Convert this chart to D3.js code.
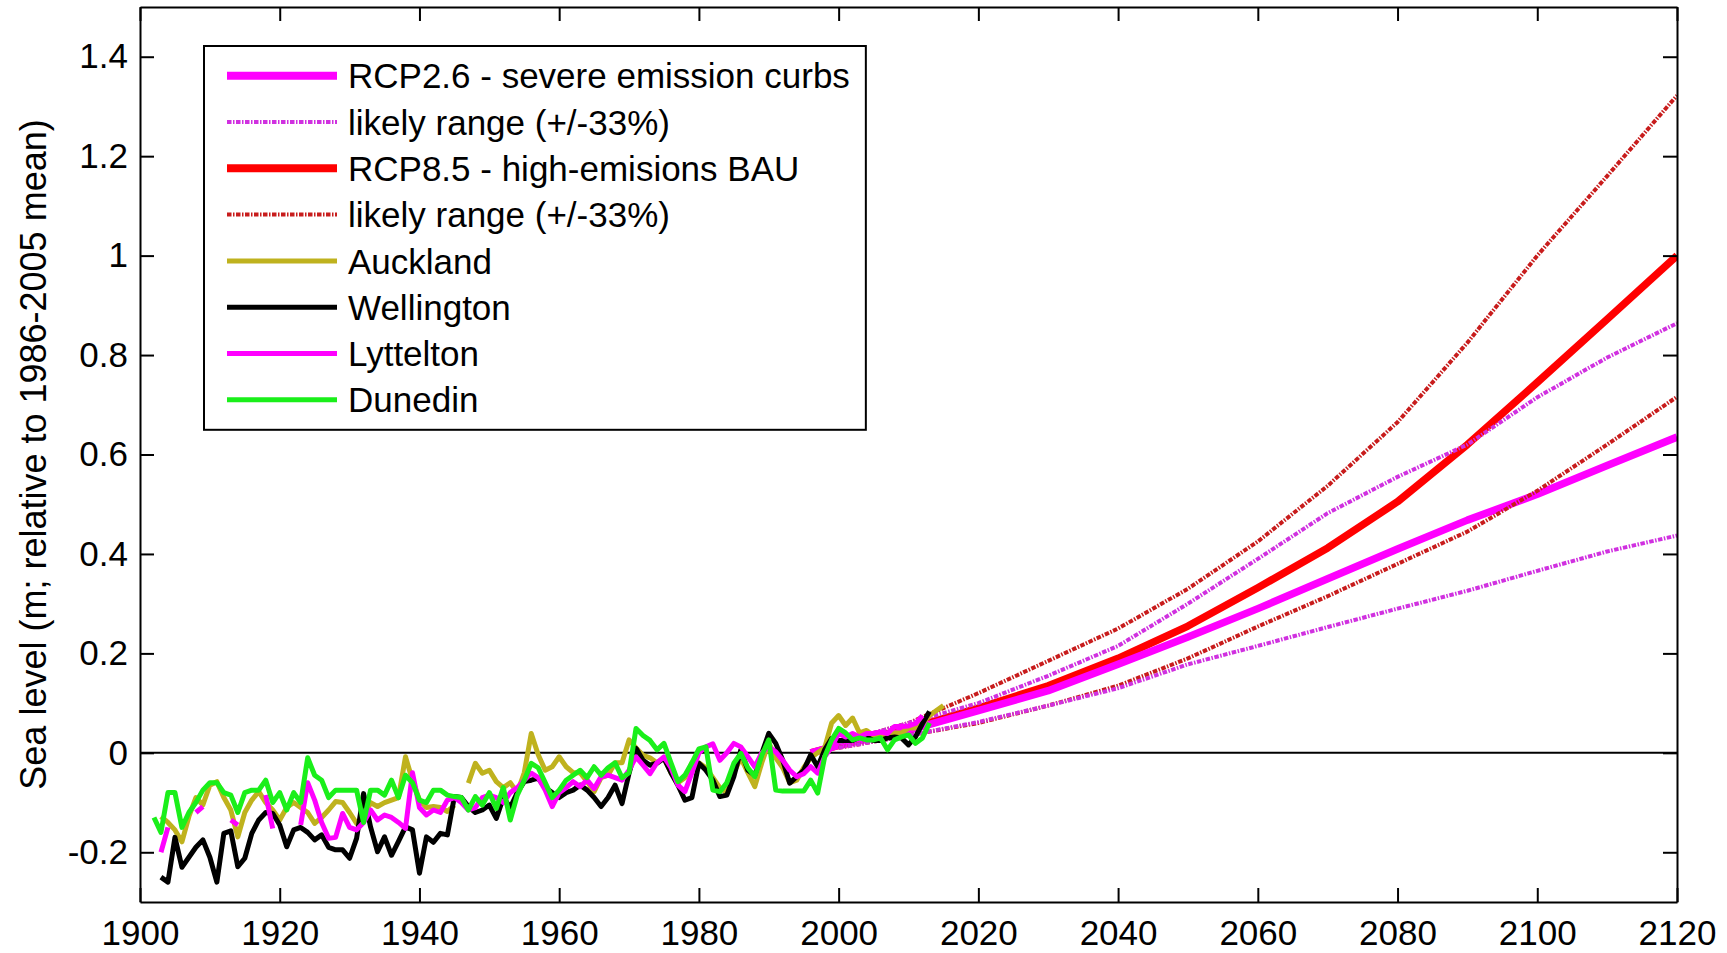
<!DOCTYPE html>
<html>
<head>
<meta charset="utf-8">
<script src="https://cdnjs.cloudflare.com/ajax/libs/d3/7.8.5/d3.min.js"></script>
<style>
  body { margin: 0; background: #fff; }
  svg { display: block; font-family: "Liberation Sans", Arial, sans-serif; }
</style>
</head>
<body>
<svg id="chart" width="1727" height="953"></svg>
<script>
const width = 1727, height = 953;
const margin = {top: 7, right: 50, bottom: 51, left: 140};

// Tide gauge annual means (m, relative to 1986-2005 mean); null = no data
const aucklandStart = 1903;
const aucklandVals = [
  -0.128, -0.14, -0.155, -0.179, -0.128, -0.09, -0.105, -0.065, -0.058, -0.09,
  -0.115, -0.169, -0.12, -0.095, -0.078, -0.1, -0.115, -0.135, -0.11, -0.1,
  -0.11, -0.12, -0.142, -0.13, -0.115, -0.098, -0.1, -0.12, -0.142, -0.13,
  -0.1, -0.108, -0.1, -0.095, -0.09, -0.008, -0.055, -0.095, -0.11, -0.108,
  -0.11, -0.118, -0.105, null, -0.061, -0.021, -0.041, -0.035, -0.058, -0.07,
  -0.06, -0.08, -0.04, 0.039, -0.004, -0.035, -0.028, -0.008, -0.028, -0.04,
  -0.04, -0.058, -0.078, -0.05, -0.045, -0.02, -0.02, 0.026, 0.01, -0.005,
  -0.01, -0.02, -0.01, -0.04, -0.06, -0.05, -0.02, -0.02, -0.03, -0.05,
  -0.07, -0.08, -0.04, -0.01, -0.04, -0.068, -0.02, 0.02, -0.01, -0.03,
  -0.06, -0.055, -0.03, -0.01, 0.0, 0.01, 0.06, 0.075, 0.055, 0.07,
  0.04, 0.045, 0.035, 0.035, 0.035, 0.04, 0.04, 0.05, 0.05, 0.06,
  0.075, 0.085, 0.095
];

const wellingtonStart = 1903;
const wellingtonVals = [
  -0.25, -0.26, -0.17, -0.23, -0.21, -0.19, -0.175, -0.21, -0.26, -0.162,
  -0.157, -0.229, -0.212, -0.162, -0.135, -0.12, -0.122, -0.145, -0.189, -0.155,
  -0.15, -0.16, -0.175, -0.165, -0.19, -0.195, -0.195, -0.212, -0.172, -0.082,
  -0.149, -0.199, -0.169, -0.206, -0.178, -0.149, -0.155, -0.242, -0.169, -0.18,
  -0.162, -0.165, -0.088, -0.09, -0.108, -0.12, -0.115, -0.105, -0.132, -0.09,
  -0.11, -0.08, -0.058, -0.055, -0.051, -0.07, -0.08, -0.09, -0.08, -0.075,
  -0.065, -0.075, -0.09, -0.108, -0.09, -0.065, -0.102, -0.041, 0.009, -0.015,
  -0.025, -0.021, -0.011, -0.04, -0.065, -0.095, -0.09, -0.021, -0.035, -0.055,
  -0.088, -0.085, -0.048, 0.006, -0.035, -0.045, -0.001, 0.039, 0.019, -0.015,
  -0.061, -0.048, -0.035, -0.004, -0.028, 0.006, 0.029, 0.025, 0.025, 0.025,
  0.032, 0.032, 0.025, 0.025, 0.03, 0.032, 0.03, 0.016, 0.032, 0.059,
  0.083
];

const lytteltonStart = 1903;
const lytteltonVals = [
  -0.2, -0.15, null, null, null, -0.12, -0.108, null, null, null,
  -0.135, -0.145, null, null, null, -0.085, -0.152, null, null, null,
  -0.145, -0.06, -0.095, -0.14, -0.172, -0.17, -0.122, -0.15, -0.155, -0.14,
  -0.115, -0.135, -0.125, -0.13, -0.14, -0.152, -0.04, -0.11, -0.125, -0.115,
  -0.12, -0.095, -0.09, -0.1, -0.115, -0.11, -0.09, -0.085, -0.09, -0.1,
  -0.08, -0.07, -0.055, -0.041, -0.05, -0.075, -0.108, -0.08, -0.07, -0.058,
  -0.068, -0.055, -0.072, -0.048, -0.045, -0.05, -0.055, -0.035, -0.008, -0.025,
  -0.042, -0.02, -0.008, -0.03, -0.065, -0.078, -0.04, 0.0, 0.012, 0.018,
  -0.015, 0.0, 0.019, 0.012, -0.008, -0.028, 0.0, 0.012, 0.002, -0.015,
  -0.035, -0.048, -0.042, -0.028, -0.041, -0.008, 0.012, 0.039, 0.032, 0.039,
  0.032, 0.039, 0.039, 0.042, 0.039, 0.053, 0.053, 0.054, 0.059, 0.075
];

const dunedinStart = 1902;
const dunedinVals = [
  -0.13, -0.16, -0.08, -0.08, -0.15, -0.12, -0.1, -0.075, -0.06, -0.06,
  -0.08, -0.085, -0.12, -0.08, -0.075, -0.075, -0.055, -0.1, -0.08, -0.115,
  -0.08, -0.1, -0.01, -0.045, -0.055, -0.09, -0.075, -0.075, -0.075, -0.075,
  -0.14, -0.075, -0.075, -0.085, -0.055, -0.09, -0.045, -0.06, -0.095, -0.1,
  -0.075, -0.075, -0.085, -0.088, -0.09, -0.115, -0.088, -0.105, -0.08, -0.112,
  -0.07, -0.135, -0.085, -0.055, -0.021, -0.03, -0.06, -0.09, -0.075, -0.055,
  -0.045, -0.035, -0.05, -0.028, -0.045, -0.03, -0.02, -0.05, -0.04, 0.049,
  0.035, 0.025, 0.006, 0.019, -0.02, -0.058, -0.045, -0.02, 0.008, 0.012,
  -0.075, -0.078, -0.06, -0.021, -0.001, -0.03, -0.048, -0.005, 0.026, -0.075,
  -0.077, -0.077, -0.077, -0.077, -0.055, -0.081, -0.008, 0.026, 0.049, 0.04,
  0.026, 0.03, 0.026, 0.026, 0.03, 0.006, 0.026, 0.032, 0.036, 0.019,
  0.03, 0.06
];

// IPCC AR5 projections for NZ (m, relative to 1986-2005)
const projYears = [1996, 2000, 2010, 2020, 2030, 2040, 2050, 2060, 2070, 2080, 2090, 2100, 2110, 2120];
const rcp26Mean = [0.0, 0.015, 0.045, 0.085, 0.125, 0.178, 0.233, 0.29, 0.35, 0.41, 0.468, 0.52, 0.578, 0.635];
const rcp26Low  = [null, 0.01, 0.035, 0.062, 0.095, 0.13, 0.178, 0.215, 0.253, 0.29, 0.326, 0.366, 0.405, 0.437];
const rcp26High = [null, 0.02, 0.06, 0.1, 0.155, 0.215, 0.30, 0.39, 0.482, 0.555, 0.62, 0.715, 0.795, 0.864];
const rcp85Mean = [0.0, 0.015, 0.048, 0.09, 0.135, 0.19, 0.255, 0.332, 0.412, 0.505, 0.62, 0.745, 0.872, 1.0];
const rcp85Low  = [null, 0.01, 0.035, 0.06, 0.095, 0.135, 0.19, 0.254, 0.315, 0.38, 0.445, 0.527, 0.62, 0.716];
const rcp85High = [null, 0.02, 0.06, 0.12, 0.185, 0.25, 0.33, 0.425, 0.537, 0.665, 0.825, 1.0, 1.16, 1.322];

const xTicks = d3.range(1900, 2121, 20);
const yTicks = [-0.2, 0, 0.2, 0.4, 0.6, 0.8, 1, 1.2, 1.4];

const colors = {
  rcp26: "#ff00ff", rcp26Range: "#d030e0",
  rcp85: "#ff0000", rcp85Range: "#c81c1c",
  auckland: "#bfb21e", wellington: "#000000", lyttelton: "#ff00ff", dunedin: "#1aef1a"
};

const svg = d3.select("#chart");

const x = d3.scaleLinear().domain([1900, 2120]).range([margin.left, width - margin.right]);
const y = d3.scaleLinear().domain([-0.3, 1.5]).range([height - margin.bottom, margin.top]);

function annual(start, vals) {
  return vals.map((v, i) => ({year: start + i, value: v}));
}
function proj(vals) {
  return projYears.map((yr, i) => ({year: yr, value: vals[i]}));
}

const line = d3.line()
  .defined(d => d.value !== null)
  .x(d => x(d.year))
  .y(d => y(d.value));

svg.append("defs").append("clipPath").attr("id", "plotClip")
  .append("rect")
  .attr("x", margin.left).attr("y", margin.top)
  .attr("width", width - margin.left - margin.right)
  .attr("height", height - margin.top - margin.bottom);

const plot = svg.append("g").attr("clip-path", "url(#plotClip)");

// zero line
plot.append("line")
  .attr("x1", x(1900)).attr("x2", x(2120))
  .attr("y1", y(0)).attr("y2", y(0))
  .attr("stroke", "#000").attr("stroke-width", 2);

const dashRange = "4.5,1.5,1.5,1.5";

// projections: means first, likely ranges over them
const projSeries = [
  {vals: rcp85Mean, color: colors.rcp85, w: 7.5, dash: null},
  {vals: rcp26Mean, color: colors.rcp26, w: 7.5, dash: null},
  {vals: rcp85High, color: colors.rcp85Range, w: 4, dash: dashRange},
  {vals: rcp85Low, color: colors.rcp85Range, w: 4, dash: dashRange},
  {vals: rcp26High, color: colors.rcp26Range, w: 4, dash: dashRange},
  {vals: rcp26Low, color: colors.rcp26Range, w: 4, dash: dashRange}
];
projSeries.forEach(s => {
  plot.append("path")
    .datum(proj(s.vals))
    .attr("d", line)
    .attr("fill", "none")
    .attr("stroke", s.color)
    .attr("stroke-width", s.w)
    .attr("stroke-dasharray", s.dash)
    .attr("stroke-linejoin", "round");
});

// tide gauges
const gauges = [
  {start: aucklandStart, vals: aucklandVals, color: colors.auckland},
  {start: wellingtonStart, vals: wellingtonVals, color: colors.wellington},
  {start: lytteltonStart, vals: lytteltonVals, color: colors.lyttelton},
  {start: dunedinStart, vals: dunedinVals, color: colors.dunedin}
];
gauges.forEach(g => {
  plot.append("path")
    .datum(annual(g.start, g.vals))
    .attr("d", line)
    .attr("fill", "none")
    .attr("stroke", g.color)
    .attr("stroke-width", 5)
    .attr("stroke-linejoin", "round");
});

// axes: ticks point inward, labels on left and bottom only
const tickLen = 14;
const fmtY = d => String(+d.toFixed(1));

const xAxisB = svg.append("g")
  .attr("transform", `translate(0,${height - margin.bottom})`)
  .call(d3.axisBottom(x).tickValues(xTicks).tickFormat(d3.format("d"))
    .tickSizeInner(-tickLen).tickSizeOuter(0).tickPadding(18));
const xAxisT = svg.append("g")
  .attr("transform", `translate(0,${margin.top})`)
  .call(d3.axisTop(x).tickValues(xTicks).tickFormat("")
    .tickSizeInner(-tickLen).tickSizeOuter(0));
const yAxisL = svg.append("g")
  .attr("transform", `translate(${margin.left},0)`)
  .call(d3.axisLeft(y).tickValues(yTicks).tickFormat(fmtY)
    .tickSizeInner(-tickLen).tickSizeOuter(0).tickPadding(12));
const yAxisR = svg.append("g")
  .attr("transform", `translate(${width - margin.right},0)`)
  .call(d3.axisRight(y).tickValues(yTicks).tickFormat("")
    .tickSizeInner(-tickLen).tickSizeOuter(0));

[xAxisB, xAxisT, yAxisL, yAxisR].forEach(a => {
  a.selectAll(".domain").attr("stroke", "#000").attr("stroke-width", 2);
  a.selectAll(".tick line").attr("stroke", "#000").attr("stroke-width", 2);
  a.selectAll("text").attr("fill", "#000").style("font-size", "35px")
    .style("font-family", "'Liberation Sans', Arial, sans-serif");
});

// axis title
svg.append("text")
  .attr("transform", `translate(46,${(margin.top + height - margin.bottom) / 2}) rotate(-90)`)
  .attr("text-anchor", "middle")
  .style("font-size", "36px")
  .text("Sea level (m; relative to 1986-2005 mean)");

// legend
const legendItems = [
  {label: "RCP2.6 - severe emission curbs", color: colors.rcp26, w: 8, dash: null},
  {label: "likely range (+/-33%)", color: colors.rcp26Range, w: 4, dash: dashRange},
  {label: "RCP8.5 - high-emisions BAU", color: colors.rcp85, w: 8, dash: null},
  {label: "likely range (+/-33%)", color: colors.rcp85Range, w: 4, dash: dashRange},
  {label: "Auckland", color: colors.auckland, w: 5, dash: null},
  {label: "Wellington", color: colors.wellington, w: 5, dash: null},
  {label: "Lyttelton", color: colors.lyttelton, w: 5, dash: null},
  {label: "Dunedin", color: colors.dunedin, w: 5, dash: null}
];
const legX = 204, legY = 46, rowH = 46.3, firstRow = 29.7;
const legend = svg.append("g").attr("transform", `translate(${legX},${legY})`);
const legBox = legend.append("rect")
  .attr("fill", "#fff").attr("stroke", "#000").attr("stroke-width", 2);

legendItems.forEach((d, i) => {
  const cy = firstRow + i * rowH;
  legend.append("line")
    .attr("x1", 23).attr("x2", 133).attr("y1", cy).attr("y2", cy)
    .attr("stroke", d.color).attr("stroke-width", d.w)
    .attr("stroke-dasharray", d.dash);
  legend.append("text")
    .attr("class", "leg-label")
    .attr("x", 144).attr("y", cy)
    .attr("dy", "0.36em")
    .style("font-size", "35px")
    .text(d.label);
});

let maxW = 0;
legend.selectAll(".leg-label").each(function() {
  maxW = Math.max(maxW, this.getComputedTextLength());
});
legBox.attr("x", 0).attr("y", 0)
  .attr("width", 144 + maxW + 16)
  .attr("height", firstRow + 7 * rowH + 30);
</script>
</body>
</html>
